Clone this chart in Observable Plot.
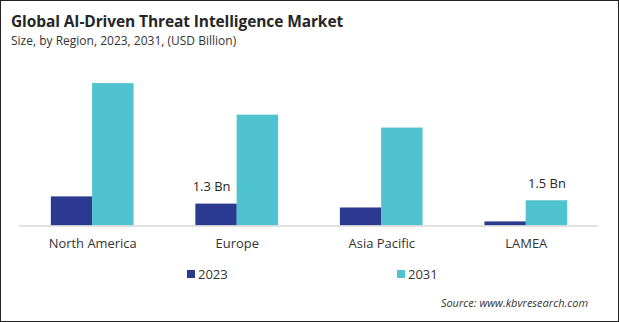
<!DOCTYPE html>
<html>
<head>
<meta charset="utf-8">
<script src="https://cdn.jsdelivr.net/npm/d3@7"></script>
<script src="https://cdn.jsdelivr.net/npm/@observablehq/plot@0.6"></script>
<style>
  html, body { margin: 0; padding: 0; background: #fff; }
  #card {
    position: relative; box-sizing: border-box; width: 619px; height: 322px;
    border: 1px solid #222; overflow: hidden; font-family: "Open Sans", sans-serif; color: #262626;
  }
  #title { position: absolute; left: 10px; top: 9px; font-size: 15.5px; font-weight: 700; letter-spacing: -0.1px; color: #262626; white-space: nowrap; }
  #subtitle { position: absolute; left: 10px; top: 31px; font-size: 12px; color: #333; white-space: nowrap; }
  #chart { position: absolute; left: -1px; top: 55px; }
  .leg { position: absolute; top: 264px; font-size: 13px; color: #333; display: flex; align-items: center; }
  .sw { display: inline-block; width: 8px; height: 8px; margin-right: 3px; }
  #source { position: absolute; right: 30px; top: 294px; font-size: 11px; font-style: italic; color: #333; }
</style>
</head>
<body>
<div id="card">
  <div id="title"></div>
  <div id="subtitle"></div>
  <div id="chart"></div>
  <div id="legend"></div>
  <div id="source"></div>
</div>
<script>
const titleText = "Global AI-Driven Threat Intelligence Market";
const subtitleText = "Size, by Region, 2023, 2031, (USD Billion)";
const sourceText = "Source: www.kbvresearch.com";
const regions = ["North America", "Europe", "Asia Pacific", "LAMEA"];
const years = ["2023", "2031"];
const values2023 = [1.73, 1.3, 1.07, 0.24];
const values2031 = [8.48, 6.6, 5.83, 1.5];
const colors = ["#2b3990", "#4fc3cf"];
const labelRegions = ["Europe", "LAMEA"];
const labelYears = ["2023", "2031"];
const labelTexts = ["1.3 Bn", "1.5 Bn"];

document.getElementById("title").textContent = titleText;
document.getElementById("subtitle").textContent = subtitleText;
document.getElementById("source").textContent = sourceText;

const rows = [];
regions.forEach((r, i) => {
  rows.push({region: r, year: years[0], value: values2023[i]});
  rows.push({region: r, year: years[1], value: values2031[i]});
});
const labels = labelRegions.map((r, i) => {
  const row = rows.find(d => d.region === r && d.year === labelYears[i]);
  return {region: r, year: labelYears[i], value: row.value, text: labelTexts[i]};
});

const W = 620, H = 200, ML = 19, MR = 20, MT = 10, MB = 30;
const half = ((W - ML - MR) / 4) * 0.57 / 2;

const plot = Plot.plot({
  width: W, height: H,
  marginLeft: ML, marginRight: MR, marginTop: MT, marginBottom: MB,
  style: {fontFamily: "Open Sans, sans-serif", fontSize: "13px", color: "#333", background: "transparent"},
  x: {domain: regions, paddingInner: 0.43, paddingOuter: 0.215, label: null, tickSize: 0, tickPadding: 13},
  y: {domain: [0, 9.5], axis: null},
  color: {domain: years, range: colors},
  marks: [
    Plot.barY(rows.filter(d => d.year === years[0]), {x: "region", y: "value", fill: "year", insetRight: half}),
    Plot.barY(rows.filter(d => d.year === years[1]), {x: "region", y: "value", fill: "year", insetLeft: half}),
    Plot.ruleY([0], {stroke: "#d9d9d9", strokeWidth: 1.5}),
    Plot.text(labels.filter(d => d.year === years[0]), {x: "region", y: "value", text: "text", dx: -half / 2 - 5, dy: -17, fontSize: 13, fill: "#262626"}),
    Plot.text(labels.filter(d => d.year === years[1]), {x: "region", y: "value", text: "text", dx: half / 2, dy: -17, fontSize: 13, fill: "#262626"})
  ]
});
document.getElementById("chart").appendChild(plot);

const legend = document.getElementById("legend");
const legLeft = [186, 396];
years.forEach((y, i) => {
  const item = document.createElement("div");
  item.className = "leg";
  item.style.left = legLeft[i] + "px";
  const sw = document.createElement("span");
  sw.className = "sw";
  sw.style.background = colors[i];
  item.appendChild(sw);
  item.appendChild(document.createTextNode(y));
  legend.appendChild(item);
});
</script>
</body>
</html>
